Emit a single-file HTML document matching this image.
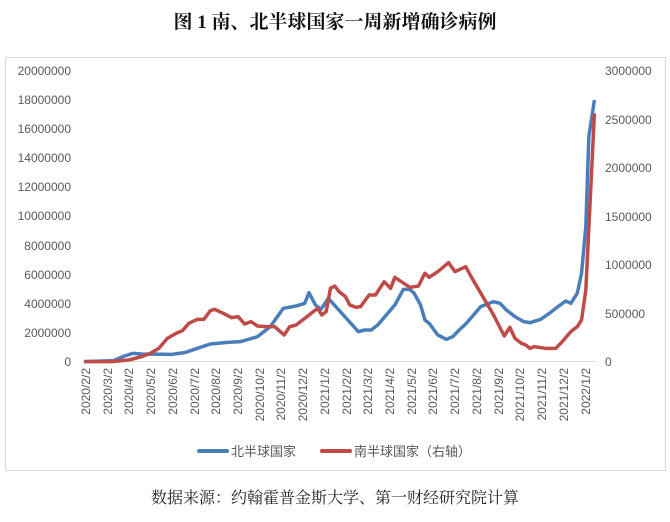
<!DOCTYPE html><html><head><meta charset="utf-8"><style>
body{margin:0;width:670px;height:517px;background:#fff;overflow:hidden;font-family:"Liberation Sans","Noto Sans CJK SC",sans-serif}
</style></head><body>
<svg width="670" height="517" xmlns="http://www.w3.org/2000/svg" font-family="Liberation Sans, Noto Sans CJK SC, sans-serif">
<text x="335" y="28" text-anchor="middle" font-size="19" font-weight="bold" font-family="Liberation Serif, Noto Serif CJK SC, serif" fill="#111">图 1  南、北半球国家一周新增确诊病例</text>
<rect x="5.5" y="57.5" width="660" height="413" fill="none" stroke="#d9d9d9"/>
<g font-size="12" fill="#595959" text-anchor="end">
<text x="71" y="75">20000000</text><text x="71" y="104">18000000</text><text x="71" y="133">16000000</text><text x="71" y="162">14000000</text><text x="71" y="191">12000000</text><text x="71" y="220">10000000</text><text x="71" y="250">8000000</text><text x="71" y="279">6000000</text><text x="71" y="308">4000000</text><text x="71" y="337">2000000</text><text x="71" y="366">0</text>
</g>
<g font-size="12" fill="#595959">
<text x="605" y="75">3000000</text><text x="605" y="124">2500000</text><text x="605" y="172">2000000</text><text x="605" y="221">1500000</text><text x="605" y="269">1000000</text><text x="605" y="318">500000</text><text x="605" y="366">0</text>
</g>
<line x1="82" y1="361.5" x2="596" y2="361.5" stroke="#d9d9d9"/>
<g font-size="12" fill="#595959" text-anchor="end">
<text transform="translate(90,368) rotate(-90)">2020/2/2</text><text transform="translate(112,368) rotate(-90)">2020/3/2</text><text transform="translate(133,368) rotate(-90)">2020/4/2</text><text transform="translate(155,368) rotate(-90)">2020/5/2</text><text transform="translate(177,368) rotate(-90)">2020/6/2</text><text transform="translate(199,368) rotate(-90)">2020/7/2</text><text transform="translate(220,368) rotate(-90)">2020/8/2</text><text transform="translate(242,368) rotate(-90)">2020/9/2</text><text transform="translate(264,368) rotate(-90)">2020/10/2</text><text transform="translate(285,368) rotate(-90)">2020/11/2</text><text transform="translate(307,368) rotate(-90)">2020/12/2</text><text transform="translate(329,368) rotate(-90)">2021/1/2</text><text transform="translate(351,368) rotate(-90)">2021/2/2</text><text transform="translate(372,368) rotate(-90)">2021/3/2</text><text transform="translate(394,368) rotate(-90)">2021/4/2</text><text transform="translate(416,368) rotate(-90)">2021/5/2</text><text transform="translate(437,368) rotate(-90)">2021/6/2</text><text transform="translate(459,368) rotate(-90)">2021/7/2</text><text transform="translate(481,368) rotate(-90)">2021/8/2</text><text transform="translate(503,368) rotate(-90)">2021/9/2</text><text transform="translate(524,368) rotate(-90)">2021/10/2</text><text transform="translate(546,368) rotate(-90)">2021/11/2</text><text transform="translate(568,368) rotate(-90)">2021/12/2</text><text transform="translate(590,368) rotate(-90)">2022/1/2</text>
</g>
<g transform="translate(0,40) scale(0.42918,0.33333)">
<polyline vector-effect="non-scaling-stroke" fill="none" stroke="#4a7ebb" stroke-width="3.5" stroke-linejoin="round" points="196,965 265,962 290,948 310,940 330,942 400,943 430,938 460,925 490,912 530,907 560,905 600,890 630,860 660,805 690,798 710,790 720,758 735,795 748,808 765,775 800,825 835,875 850,870 865,870 880,855 900,825 920,795 940,748 955,748 965,760 980,795 990,840 1000,850 1020,885 1040,898 1055,890 1070,870 1085,852 1100,830 1120,800 1150,785 1165,790 1180,810 1200,830 1220,845 1235,848 1260,838 1280,820 1300,800 1318,783 1330,790 1345,760 1355,700 1365,560 1372,290 1385,180"/>
<polyline vector-effect="non-scaling-stroke" fill="none" stroke="#be4b48" stroke-width="3.5" stroke-linejoin="round" points="196,965 260,965 300,960 330,950 350,940 370,925 390,895 410,880 425,872 440,850 460,838 475,838 490,812 500,808 520,820 540,833 555,830 570,852 585,845 600,858 620,860 640,860 662,885 675,860 690,855 710,835 730,815 740,805 750,825 760,815 770,745 780,738 790,755 805,770 815,795 830,802 840,800 860,765 875,765 895,725 910,745 920,712 935,725 955,742 975,738 990,700 1000,712 1020,695 1045,668 1060,695 1085,680 1100,715 1125,770 1150,825 1175,888 1188,862 1200,895 1215,910 1225,915 1235,925 1245,920 1270,925 1295,925 1310,905 1330,875 1345,860 1355,840 1365,750 1385,220"/>
</g>
<line x1="199" y1="451" x2="227" y2="451" stroke="#4a7ebb" stroke-width="4" stroke-linecap="round"/>
<text x="231" y="456" font-size="13" fill="#595959">北半球国家</text>
<line x1="322" y1="451" x2="350" y2="451" stroke="#be4b48" stroke-width="4" stroke-linecap="round"/>
<text x="354" y="456" font-size="13" fill="#595959">南半球国家（右轴）</text>
<text x="335" y="503" text-anchor="middle" font-size="16" fill="#222" font-family="Liberation Serif, Noto Serif CJK SC, serif">数据来源：约翰霍普金斯大学、第一财经研究院计算</text>
</svg>
</body></html>
